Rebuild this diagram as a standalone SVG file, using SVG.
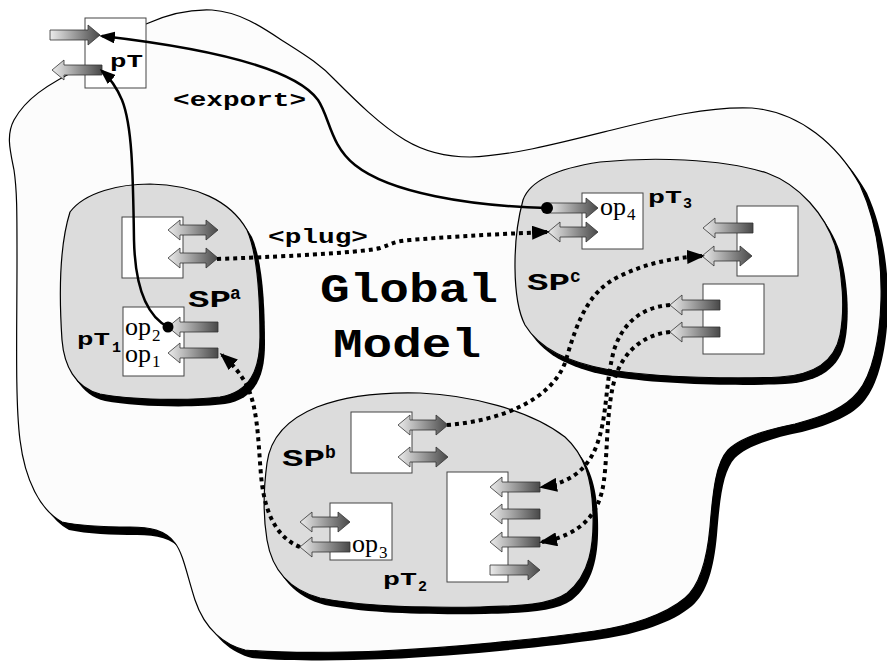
<svg xmlns="http://www.w3.org/2000/svg" xmlns:xlink="http://www.w3.org/1999/xlink" width="887" height="665" viewBox="0 0 887 665">
  <defs>
    <linearGradient id="shade" x1="0" y1="0" x2="1" y2="0">
      <stop offset="0" stop-color="#ececec"/>
      <stop offset="1" stop-color="#484848"/>
    </linearGradient>
    <!-- port arrows, 50px long, anchored at left end, centred on y=0 -->
    <path id="ar" d="M0,-5 H38 V-10 L50,0 L38,10 V5 H0 Z"/>
    <path id="al" d="M0,0 L12,-10 V-5 H50 V5 H12 V10 Z"/>
    <path id="ad" d="M0,0 L12,-10 V-5 H38 V-10 L50,0 L38,10 V5 H12 V10 Z"/>
    <marker id="headSolid" viewBox="0 0 16 12" markerWidth="16" markerHeight="12" refX="13" refY="6" orient="auto" markerUnits="userSpaceOnUse">
      <path d="M0,0 L16,6 L0,12 Z" fill="#000"/>
    </marker>
    <marker id="headDot" viewBox="0 0 18 14" markerWidth="18" markerHeight="14" refX="15" refY="7" orient="auto" markerUnits="userSpaceOnUse">
      <path d="M0,0 L18,7 L0,14 Z" fill="#000"/>
    </marker>
    <path id="globalShape" d="M85,66 C110,45 128,30 146,24 C168,14 190,9 212,10 C240,12 262,27 283,41 C305,55 320,64 335,80 C355,100 380,125 405,140 C425,152 445,157 470,157 C510,156 560,143 612,130 C660,118 710,106 752,108 C800,112 838,145 860,185 C876,220 882,262 881,300 C880,340 872,375 858,392 C845,408 825,416 795,424 C765,430 740,438 728,450 C716,463 713,490 710,527 C707,560 700,585 685,598 C665,615 630,626 595,631 C540,639 450,648 380,651 C330,653 280,653 245,650 C225,645 205,630 195,600 C187,575 183,553 175,543 C165,530 150,527 130,527 C105,527 80,526 62,522 C40,510 25,480 20,440 C15,400 17,330 17,260 C17,210 17,190 14,170 C10,150 6,135 14,120 C25,100 45,85 85,66 Z"/>
    <path id="spaShape" d="M70,212 C85,192 120,184 150,184 C195,185 230,200 247,230 C258,255 260,300 260,337 C260,370 250,392 220,397 C190,401 130,400 100,394 C75,388 64,365 62,340 C60,310 58,250 70,212 Z"/>
    <path id="spbShape" d="M267,463 C270,440 285,420 317,407 C345,396 383,392 420,393 C470,395 530,410 565,437 C585,455 592,480 593,513 C594,545 590,575 567,593 C550,605 520,606 480,607 C420,608 360,606 320,598 C290,590 272,570 267,540 C262,510 264,485 267,463 Z"/>
    <path id="spcShape" d="M523,200 C530,180 560,168 600,162 C650,157 720,158 767,173 C800,185 825,215 835,245 C843,275 845,310 840,335 C835,360 815,375 780,377 C740,379 660,378 610,370 C570,363 540,350 525,325 C512,300 512,240 523,200 Z"/>
  </defs>
  <style>
    .shadow { fill: #000; }
    .outer { fill: #fcfcfc; stroke: #000; stroke-width: 1.2; }
    .sp { fill: #dcdcdc; stroke: #000; stroke-width: 1.2; }
    .box { fill: #fff; stroke: #444; stroke-width: 1; }
    .port { fill: url(#shade); stroke: #333; stroke-width: 0.8; }
    .mono { font-family: "Courier New", "Liberation Mono", monospace; font-weight: bold; fill: #000; }
    .serif { font-family: "Times New Roman", "Liberation Serif", serif; fill: #000; }
    .export { fill: none; stroke: #000; stroke-width: 2.5; }
    .plug { fill: none; stroke: #000; stroke-width: 4; stroke-dasharray: 4 4; }
  </style>

  <!-- global model region -->
  <g id="global-model">
    <use xlink:href="#globalShape" class="shadow" transform="translate(7,8)"/>
    <use xlink:href="#globalShape" class="outer"/>
    <text class="mono" x="320" y="302" font-size="41" textLength="178" lengthAdjust="spacingAndGlyphs">Global</text>
    <text class="mono" x="333" y="357" font-size="41" textLength="148" lengthAdjust="spacingAndGlyphs">Model</text>
  </g>

  <!-- exported pattern template -->
  <g id="pT">
    <rect class="box" x="85" y="18" width="61" height="70"/>
    <use xlink:href="#ar" class="port" x="50" y="35"/>
    <use xlink:href="#al" class="port" x="52" y="70"/>
    <text class="mono" x="110" y="67" font-size="19" textLength="33" lengthAdjust="spacingAndGlyphs">pT</text>
  </g>

  <!-- sub-process a -->
  <g id="SPa">
    <use xlink:href="#spaShape" class="shadow" transform="translate(5,7)"/>
    <use xlink:href="#spaShape" class="sp"/>
    <rect class="box" x="122" y="217" width="61" height="61"/>
    <use xlink:href="#ad" class="port" x="168" y="230"/>
    <use xlink:href="#ad" class="port" x="168" y="258"/>
    <text class="mono" x="188" y="307" font-size="24" textLength="43" lengthAdjust="spacingAndGlyphs">SP</text>
    <text class="mono" x="230" y="299" font-size="18">a</text>
  </g>

  <g id="pT1">
    <rect class="box" x="123" y="307" width="61" height="69"/>
    <use xlink:href="#al" class="port" x="168" y="327"/>
    <use xlink:href="#al" class="port" x="168" y="353"/>
    <text class="serif" x="125" y="335" font-size="26">op</text>
    <text class="serif" x="152" y="341" font-size="17">2</text>
    <text class="serif" x="125" y="362" font-size="26">op</text>
    <text class="serif" x="152" y="367" font-size="17">1</text>
    <text class="mono" x="77" y="345" font-size="19" textLength="33" lengthAdjust="spacingAndGlyphs">pT</text>
    <text class="mono" x="112" y="352" font-size="15">1</text>
  </g>

  <!-- sub-process b -->
  <g id="SPb">
    <use xlink:href="#spbShape" class="shadow" transform="translate(5,7)"/>
    <use xlink:href="#spbShape" class="sp"/>
    <rect class="box" x="351" y="412" width="61" height="61"/>
    <use xlink:href="#ad" class="port" x="398" y="425"/>
    <use xlink:href="#ad" class="port" x="398" y="457"/>
    <rect class="box" x="447" y="472" width="61" height="110"/>
    <use xlink:href="#al" class="port" x="490" y="487"/>
    <use xlink:href="#al" class="port" x="490" y="514"/>
    <use xlink:href="#al" class="port" x="490" y="542"/>
    <use xlink:href="#ar" class="port" x="490" y="570"/>
    <text class="mono" x="282" y="466" font-size="24" textLength="43" lengthAdjust="spacingAndGlyphs">SP</text>
    <text class="mono" x="325" y="458" font-size="18">b</text>
  </g>

  <g id="pT2">
    <rect class="box" x="330" y="503" width="62" height="57"/>
    <use xlink:href="#ad" class="port" x="300" y="522"/>
    <use xlink:href="#al" class="port" x="300" y="547"/>
    <text class="serif" x="352" y="552" font-size="26">op</text>
    <text class="serif" x="379" y="558" font-size="17">3</text>
    <text class="mono" x="383" y="585" font-size="19" textLength="34" lengthAdjust="spacingAndGlyphs">pT</text>
    <text class="mono" x="418" y="591" font-size="15">2</text>
  </g>

  <!-- sub-process c -->
  <g id="SPc">
    <use xlink:href="#spcShape" class="shadow" transform="translate(5,7)"/>
    <use xlink:href="#spcShape" class="sp"/>
    <rect class="box" x="737" y="206" width="61" height="70"/>
    <use xlink:href="#al" class="port" x="703" y="228"/>
    <use xlink:href="#ad" class="port" x="702" y="256"/>
    <rect class="box" x="703" y="284" width="61" height="70"/>
    <use xlink:href="#al" class="port" x="670" y="305"/>
    <use xlink:href="#al" class="port" x="670" y="332"/>
    <text class="mono" x="527" y="290" font-size="24" textLength="43" lengthAdjust="spacingAndGlyphs">SP</text>
    <text class="mono" x="570" y="282" font-size="18">c</text>
  </g>

  <g id="pT3">
    <rect class="box" x="582" y="193" width="61" height="56"/>
    <use xlink:href="#ar" class="port" x="548" y="208"/>
    <use xlink:href="#ad" class="port" x="548" y="232"/>
    <text class="serif" x="600" y="215" font-size="26">op</text>
    <text class="serif" x="627" y="220" font-size="17">4</text>
    <text class="mono" x="648" y="203" font-size="19" textLength="34" lengthAdjust="spacingAndGlyphs">pT</text>
    <text class="mono" x="683" y="208" font-size="15">3</text>
  </g>

  <!-- connectors -->
  <g id="connectors">
    <path class="export" d="M547,208 C470,206 390,193 355,165 C330,145 330,118 318,100 C300,75 240,52 102,36" marker-end="url(#headSolid)"/>
    <path class="export" d="M168,327 C145,315 135,285 134,240 C133,170 132,125 122,100 C116,86 110,78 102,71" marker-end="url(#headSolid)"/>
    <circle cx="168" cy="327" r="5.5" fill="#000"/>
    <circle cx="547" cy="208" r="6" fill="#000"/>
    <text class="mono" x="173" y="106" font-size="20" textLength="133" lengthAdjust="spacingAndGlyphs">&lt;export&gt;</text>

    <path class="plug" d="M217,259 C300,256 365,252 380,248 C392,244 395,241 410,240 C460,236 500,234 547,232" marker-end="url(#headDot)"/>
    <text class="mono" x="268" y="243" font-size="20" textLength="100" lengthAdjust="spacingAndGlyphs">&lt;plug&gt;</text>
    <path class="plug" d="M300,547 C275,537 264,510 261,475 C258,440 258,405 245,382 C238,370 230,362 222,355" marker-end="url(#headDot)"/>
    <path class="plug" d="M447,425 C500,421 553,400 566,360 C578,318 590,290 620,276 C645,264 670,258 702,256" marker-end="url(#headDot)"/>
    <path class="plug" d="M670,305 C640,307 622,325 614,350 C606,380 607,410 600,435 C592,465 575,482 542,487" marker-end="url(#headDot)"/>
    <path class="plug" d="M670,332 C645,334 625,350 616,375 C606,405 608,450 604,480 C600,515 580,535 542,542" marker-end="url(#headDot)"/>
  </g>
</svg>
